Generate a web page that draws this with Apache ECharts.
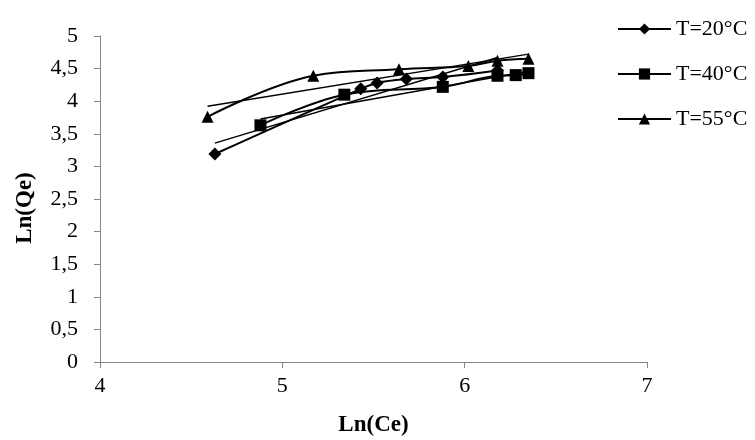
<!DOCTYPE html>
<html>
<head>
<meta charset="utf-8">
<script src="https://cdn.jsdelivr.net/npm/echarts@6/dist/echarts.min.js"></script>
<style>
  html, body { margin: 0; padding: 0; background: #fff; }
  #chart { width: 755px; height: 440px; }
</style>
</head>
<body>
<div id="chart"></div>
<script>
// Freundlich isotherm: Ln(Qe) against Ln(Ce) at three temperatures
const seriesNames = ['T=20°C', 'T=40°C', 'T=55°C'];
const seriesSymbols = ['diamond', 'rect', 'triangle'];

const lnCe20 = [4.63, 5.43, 5.52, 5.68, 5.88, 6.18];
const lnQe20 = [3.19, 4.19, 4.28, 4.34, 4.37, 4.47];

const lnCe40 = [4.88, 5.34, 5.88, 6.18, 6.28, 6.35];
const lnQe40 = [3.63, 4.10, 4.22, 4.39, 4.40, 4.43];

const lnCe55 = [4.59, 5.17, 5.64, 6.02, 6.18, 6.35];
const lnQe55 = [3.76, 4.39, 4.49, 4.54, 4.62, 4.65];

const xTicks = { min: 4, max: 7, step: 1 };
const yTicks = { min: 0, max: 5, step: 0.5 };

const xs = [lnCe20, lnCe40, lnCe55];
const ys = [lnQe20, lnQe40, lnQe55];

// least-squares straight line over the span of each data set
function linearFit(x, y) {
  const n = x.length;
  const mx = x.reduce((a, b) => a + b, 0) / n;
  const my = y.reduce((a, b) => a + b, 0) / n;
  let sxy = 0, sxx = 0;
  for (let i = 0; i < n; i++) {
    sxy += (x[i] - mx) * (y[i] - my);
    sxx += (x[i] - mx) * (x[i] - mx);
  }
  const b = sxy / sxx;
  const a = my - b * mx;
  const x0 = Math.min(...x), x1 = Math.max(...x);
  return [[x0, a + b * x0], [x1, a + b * x1]];
}

const FONT = "'Liberation Serif', 'Times New Roman', serif";
const AXIS_COLOR = '#868686';

const series = [];
for (let s = 0; s < 3; s++) {
  series.push({
    name: seriesNames[s],
    type: 'line',
    smooth: 0.4,
    symbol: seriesSymbols[s],
    symbolSize: seriesSymbols[s] === 'diamond' ? 13 : 12,
    itemStyle: { color: '#000' },
    lineStyle: { color: '#000', width: 2 },
    data: xs[s].map((v, i) => [v, ys[s][i]]),
    z: 3
  });
}
for (let s = 0; s < 3; s++) {
  series.push({
    name: seriesNames[s] + ' linéaire',
    type: 'line',
    symbol: 'none',
    lineStyle: { color: '#000', width: 1.5 },
    data: linearFit(xs[s], ys[s]),
    z: 2,
    silent: true
  });
}

const chart = echarts.init(document.getElementById('chart'), null, { renderer: 'canvas' });
chart.setOption({
  animation: false,
  backgroundColor: '#fff',
  textStyle: { fontFamily: FONT },
  grid: {
    left: 100, right: 108, top: 36, bottom: 78,
    containLabel: false,
    outerBoundsMode: 'none'
  },
  legend: {
    data: seriesNames,
    orient: 'vertical',
    left: 617,
    top: 18,
    padding: 0,
    itemWidth: 53,
    itemHeight: 14,
    itemGap: 23,
    lineStyle: { width: 2 },
    textStyle: { fontFamily: FONT, fontSize: 22, color: '#000' }
  },
  xAxis: {
    type: 'value',
    min: xTicks.min,
    max: xTicks.max,
    interval: xTicks.step,
    name: 'Ln(Ce)',
    nameLocation: 'middle',
    nameGap: 52,
    nameTextStyle: { fontFamily: FONT, fontSize: 23, fontWeight: 'bold', color: '#000' },
    axisLine: { show: true, onZero: false, lineStyle: { color: AXIS_COLOR, width: 1 } },
    axisTick: { show: true, inside: false, length: 6, lineStyle: { color: AXIS_COLOR } },
    axisLabel: { fontFamily: FONT, fontSize: 22, color: '#000', margin: 13 },
    splitLine: { show: false }
  },
  yAxis: {
    type: 'value',
    min: yTicks.min,
    max: yTicks.max,
    interval: yTicks.step,
    name: 'Ln(Qe)',
    nameLocation: 'middle',
    nameGap: 63,
    nameRotate: 90,
    nameTextStyle: {
      fontFamily: FONT, fontSize: 23, fontWeight: 'bold', color: '#000',
      padding: [0, 18, 0, 0]
    },
    axisLine: { show: true, onZero: false, lineStyle: { color: AXIS_COLOR, width: 1 } },
    axisTick: { show: true, inside: false, length: 6, lineStyle: { color: AXIS_COLOR } },
    axisLabel: {
      fontFamily: FONT, fontSize: 22, color: '#000', margin: 22,
      formatter: v => String(v).replace('.', ',')
    },
    splitLine: { show: false }
  },
  series: series
});
</script>
</body>
</html>
